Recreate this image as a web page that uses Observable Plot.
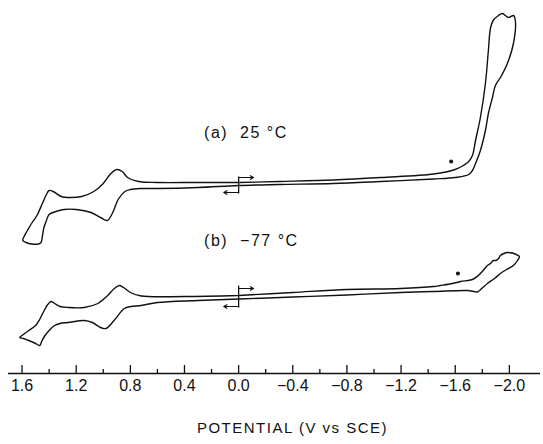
<!DOCTYPE html>
<html><head><meta charset="utf-8">
<script src="https://cdn.jsdelivr.net/npm/d3@7"></script>
<script src="https://cdn.jsdelivr.net/npm/@observablehq/plot@0.6"></script>
<style>html,body{margin:0;padding:0;background:#fff}</style>
</head><body><div id="chart"></div>
<script>
// Cyclic voltammograms — potential (V vs SCE) and current (arbitrary units, trace offset included)
const potentialA = [0,-0.30,-0.70,-1.05,-1.44,-1.60,-1.66,-1.70,
 -1.727,-1.75,-1.786,-1.823,-1.845,-1.86,-1.88,
 -1.92,-1.948,-1.993,-2.03,-2.044,
 -2.03,-1.985,-1.934,-1.897,-1.875,-1.845,-1.823,-1.786,-1.75,-1.727,-1.70,-1.60,-1.44,-1.05,-0.70,-0.30,0,
 0.30,0.60,0.72,0.80,0.84,0.89,0.93,0.97,1.02,1.09,1.20,1.29,1.35,1.40,1.42,1.44,1.45,1.46,1.48,1.53,1.57,1.595,
 1.585,1.56,1.53,1.49,1.45,1.42,1.40,1.37,1.31,1.24,1.16,1.07,1.00,0.95,0.90,0.86,0.82,0.74,0.60,0.30,0];
const currentA = [191,192,193.5,196,199.5,204,208,212,
 218,233,256,290,323,345,353,
 358,360,356,358,353,
 330,310,296,288,276,260,243,223,210,203,199,196,194.5,192,190,189,188,
 186,185,185,184,182,174,161,153,156,161,164,164,162,159,153,145,137,131,129.5,129.5,131,133,
 137,143,150,158,170,179,183,182,177,176,177,182,190,199,204,202,196,192,191,191,191];

const potentialB = [0,-0.40,-0.80,-1.196,-1.44,-1.49,-1.58,-1.64,-1.727,-1.771,-1.80,-1.838,-1.86,-1.882,-1.90,-1.92,-1.934,-1.96,-1.985,-2.02,-2.05,-2.074,
 -2.06,-2.03,-1.98,-1.934,-1.89,-1.838,-1.80,-1.764,-1.74,-1.69,-1.44,-1.196,-0.80,-0.40,0,
 0.30,0.60,0.72,0.795,0.845,0.92,0.98,1.02,1.08,1.14,1.26,1.32,1.36,1.40,1.435,1.455,1.47,1.50,1.55,1.59,1.617,
 1.60,1.55,1.50,1.47,1.44,1.41,1.385,1.36,1.32,1.26,1.14,1.04,0.967,0.918,0.881,0.85,0.80,0.72,0.40,0];
const currentB = [78,81,84,85,87,88,90,92,94,98,102,108,110,113,113,115,118,120,121,120.5,119,117,
 113,108,104,100,95,90,85.5,81.5,82,83,82,81,78.5,76.5,74.5,
 73,71,68,67,65,53,45,46,51,53,51,50,48,43,37,32,28,30,33,35,36,
 38,43,48,54,62,69,72,70,67,66,66,70,78,85,88,86,81,77.5,77,78];

const traceNames = ["(a)  25 °C", "(b)  \u221277 °C"];
const labelPotential = [0.255, 0.255];
const labelCurrent = [241, 133];

// start markers at 0.0 V with sweep-direction arrows
const markerTop = [197, 88];
const markerBottom = [180, 66];
const arrowFwd = [196, 85];
const arrowRev = [181, 67];
const arrowLen = 0.11;

// small filled dots
const dotPotential = [-1.57, -1.62];
const dotCurrent = [212, 100];

const majorTicks = [1.6,1.2,0.8,0.4,0,-0.4,-0.8,-1.2,-1.6,-2.0];
const tickLabels = ["1.6","1.2","0.8","0.4","0.0","\u22120.4","\u22120.8","\u22121.2","\u22121.6","\u22122.0"];
const minorTicks = [1.4,1.0,0.6,0.2,-0.2,-0.6,-1.0,-1.4,-1.8];
const axisTitle = "POTENTIAL (V vs SCE)";

const traceA = potentialA.map((E,i)=>({E, I: currentA[i]}));
const traceB = potentialB.map((E,i)=>({E, I: currentB[i]}));
const labels = traceNames.map((t,i)=>({t, E: labelPotential[i], I: labelCurrent[i]}));
const markers = markerTop.map((t,i)=>({E:0, y1:t, y2:markerBottom[i], fwd:arrowFwd[i], rev:arrowRev[i]}));
const dots = dotPotential.map((E,i)=>({E, I: dotCurrent[i]}));

const FONT = "'Liberation Sans', Arial, Helvetica, sans-serif";
const chart = Plot.plot({
  width: 543, height: 444,
  marginLeft: 8, marginRight: 3, marginTop: 0, marginBottom: 71,
  style: {fontFamily: FONT, background: "#fff", color: "#111"},
  x: {domain: [1.7, -2.23], axis: null},
  y: {domain: [0, 373], axis: null},
  marks: [
    Plot.ruleY([0], {stroke: "#111", strokeWidth: 1.6}),
    Plot.tickX(majorTicks, {x: d=>d, insetTop: 365, stroke: "#111", strokeWidth: 1.3}),
    Plot.tickX(minorTicks, {x: d=>d, insetTop: 369, stroke: "#111", strokeWidth: 1.3}),
    Plot.axisX({ticks: majorTicks, tickSize: 0, tickPadding: 6, label: null, fontSize: 16,
      tickFormat: d => tickLabels[majorTicks.indexOf(d)], fill: "#111"}),
    Plot.text([axisTitle], {frameAnchor: "bottom", dy: 59, dx: 18, fontSize: 15, fill: "#111"}),
    Plot.line(traceA, {x: "E", y: "I", stroke: "#111", strokeWidth: 1.4, curve: "catmull-rom"}),
    Plot.line(traceB, {x: "E", y: "I", stroke: "#111", strokeWidth: 1.4, curve: "catmull-rom"}),
    Plot.link(markers, {x1: "E", x2: "E", y1: "y1", y2: "y2", stroke: "#111", strokeWidth: 1.3}),
    Plot.arrow(markers, {x1: "E", y1: "fwd", x2: d => d.E - arrowLen, y2: "fwd", stroke: "#111", strokeWidth: 1.1, headLength: 5}),
    Plot.arrow(markers, {x1: "E", y1: "rev", x2: d => d.E + arrowLen, y2: "rev", stroke: "#111", strokeWidth: 1.1, headLength: 5}),
    Plot.dot(dots, {x: "E", y: "I", r: 2, fill: "#111"}),
    Plot.text(labels, {x: "E", y: "I", text: "t", textAnchor: "start", fontSize: 16, fill: "#111"})
  ]
});
document.getElementById("chart").appendChild(chart);
const svg = d3.select(chart);
svg.selectAll("text").filter(function(){return this.textContent===axisTitle;}).attr("letter-spacing", "1.5px");
svg.selectAll("text").filter(function(){return traceNames.includes(this.textContent);}).attr("letter-spacing", "1.5px");
</script>
</body></html>
